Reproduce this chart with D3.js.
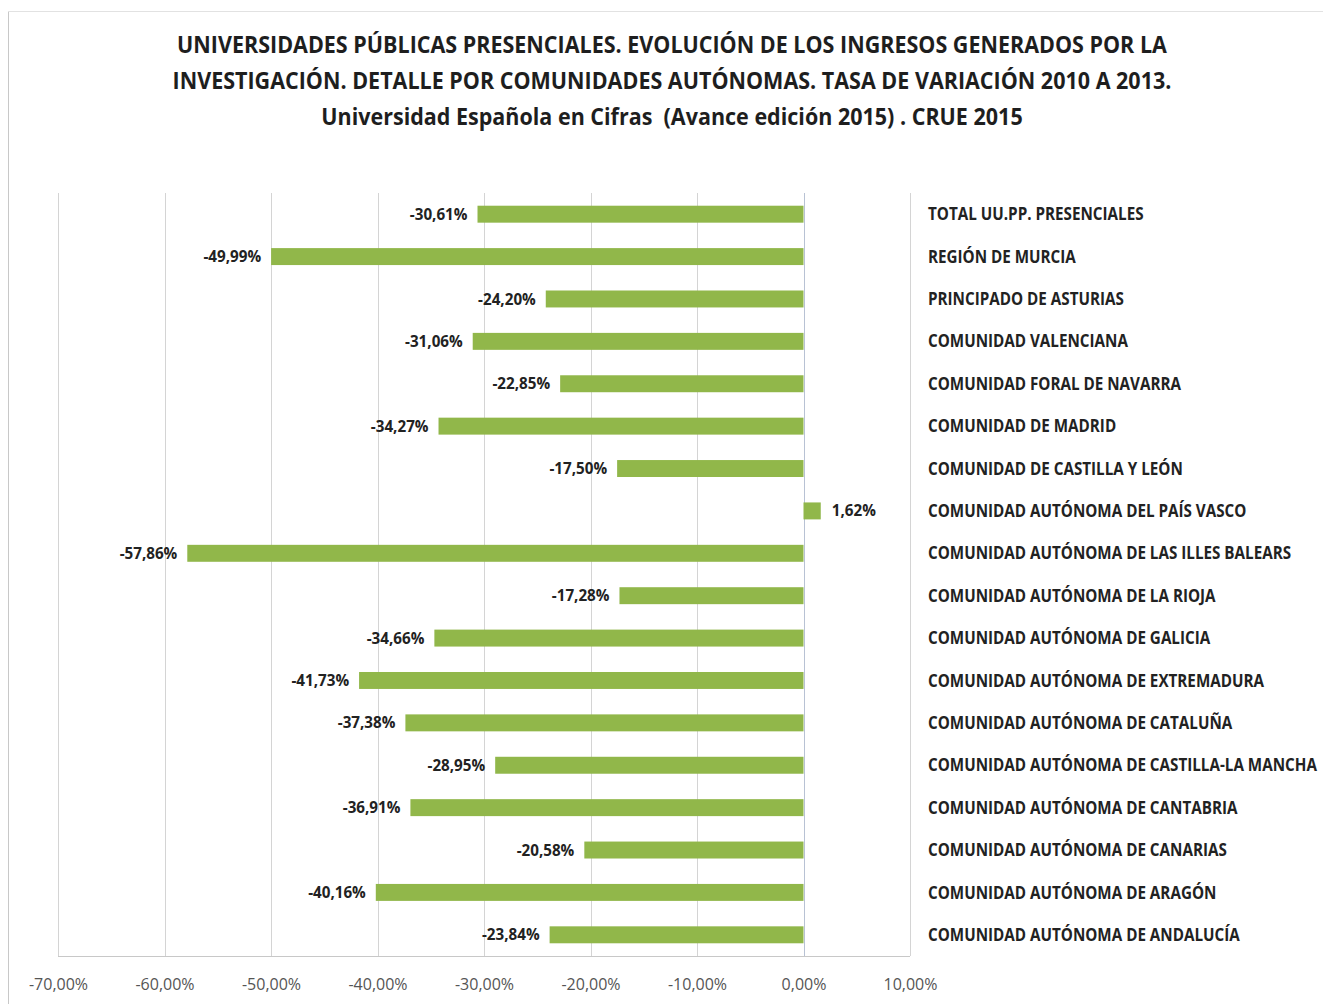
<!DOCTYPE html>
<html><head><meta charset="utf-8">
<script src="https://cdn.jsdelivr.net/npm/d3@7"></script>
<style>body{margin:0;background:#fff;} svg{display:block;}</style>
</head><body>
<svg id="c" width="1323" height="1004"></svg>
<script>
const titleLines = [
  "UNIVERSIDADES PÚBLICAS PRESENCIALES. EVOLUCIÓN DE LOS INGRESOS GENERADOS POR LA",
  "INVESTIGACIÓN. DETALLE POR COMUNIDADES AUTÓNOMAS. TASA DE VARIACIÓN 2010 A 2013.",
  "Universidad Española en Cifras  (Avance edición 2015) . CRUE 2015"
];
const categories = [
  "TOTAL UU.PP. PRESENCIALES",
  "REGIÓN DE MURCIA",
  "PRINCIPADO DE ASTURIAS",
  "COMUNIDAD VALENCIANA",
  "COMUNIDAD FORAL DE NAVARRA",
  "COMUNIDAD DE MADRID",
  "COMUNIDAD DE CASTILLA Y LEÓN",
  "COMUNIDAD AUTÓNOMA DEL PAÍS VASCO",
  "COMUNIDAD AUTÓNOMA DE LAS ILLES BALEARS",
  "COMUNIDAD AUTÓNOMA DE LA RIOJA",
  "COMUNIDAD AUTÓNOMA DE GALICIA",
  "COMUNIDAD AUTÓNOMA DE EXTREMADURA",
  "COMUNIDAD AUTÓNOMA DE CATALUÑA",
  "COMUNIDAD AUTÓNOMA DE CASTILLA-LA MANCHA",
  "COMUNIDAD AUTÓNOMA DE CANTABRIA",
  "COMUNIDAD AUTÓNOMA DE CANARIAS",
  "COMUNIDAD AUTÓNOMA DE ARAGÓN",
  "COMUNIDAD AUTÓNOMA DE ANDALUCÍA"
];
const values = [-30.61, -49.99, -24.20, -31.06, -22.85, -34.27, -17.50, 1.62, -57.86,
  -17.28, -34.66, -41.73, -37.38, -28.95, -36.91, -20.58, -40.16, -23.84];
const xTicks = [-70, -60, -50, -40, -30, -20, -10, 0, 10];

const svg = d3.select("#c");
const FONT = "'Open Sans', 'Liberation Sans', sans-serif";
function condense(sel, k) {
  sel.each(function() {
    const L = this.getComputedTextLength();
    d3.select(this).attr("textLength", L * k).attr("lengthAdjust", "spacingAndGlyphs");
  });
}
const pct = d => d.toFixed(2).replace(".", ",") + "%";

// frame
svg.append("line").attr("x1", 8.5).attr("x2", 8.5).attr("y1", 11).attr("y2", 1004).attr("stroke", "#c8c8c8");
svg.append("line").attr("x1", 8).attr("x2", 1323).attr("y1", 11.5).attr("y2", 11.5).attr("stroke", "#e2e2e2");

const x = d3.scaleLinear().domain([-70, 10]).range([58, 910]);
const y = d3.scaleBand().domain(categories).range([193, 956]).paddingInner(0.6).paddingOuter(0.3);

// title
const t = svg.append("g").attr("font-family", FONT).attr("font-weight", 700).attr("fill", "#1e1e1e");
t.selectAll("text").data(titleLines).join("text")
  .attr("x", 672).attr("y", (d, i) => [53, 89, 125][i])
  .attr("text-anchor", "middle").attr("font-size", 23)
  .style("white-space", "pre").text(d => d)
  .call(condense, 0.935);

// gridlines
svg.append("g").selectAll("line").data(xTicks).join("line")
  .attr("x1", d => Math.round(x(d)) + 0.5).attr("x2", d => Math.round(x(d)) + 0.5)
  .attr("y1", 193).attr("y2", 956)
  .attr("stroke", d => d === 0 ? "#b8c2d4" : "#d4d4d4");
svg.append("line").attr("x1", 58).attr("x2", 910).attr("y1", 956.5).attr("y2", 956.5).attr("stroke", "#c8c8c8");

// x axis tick labels
const xa = svg.append("g").attr("transform", "translate(0,956)")
  .call(d3.axisBottom(x).tickValues(xTicks).tickSize(0).tickPadding(23).tickFormat(pct));
xa.select(".domain").remove();
xa.selectAll("text").attr("font-family", FONT).attr("font-size", 16).attr("fill", "#555");

// bars
svg.append("g").selectAll("rect").data(values).join("rect")
  .attr("x", d => x(Math.min(0, d)))
  .attr("width", d => Math.abs(x(d) - x(0)))
  .attr("y", (d, i) => y(categories[i]))
  .attr("height", y.bandwidth())
  .attr("fill", "#91b74a");

// value labels
svg.append("g").selectAll("text").data(values).join("text")
  .attr("x", d => d < 0 ? x(d) - 10 : x(d) + 11)
  .attr("y", (d, i) => y(categories[i]) + y.bandwidth() / 2)
  .attr("dy", "0.36em")
  .attr("text-anchor", d => d < 0 ? "end" : "start")
  .attr("font-family", FONT).attr("font-weight", 700).attr("font-size", 15.5).attr("fill", "#222")
  .text(pct)
  .call(condense, 0.98);

// category labels (condensed horizontally via transform)
const ya = svg.append("g").attr("transform", "translate(928,0)")
  .call(d3.axisRight(y).tickSize(0).tickPadding(0));
ya.select(".domain").remove();
ya.selectAll("text").attr("font-family", FONT).attr("font-weight", 700).attr("font-size", 17)
  .attr("fill", "#222").attr("text-anchor", "start").attr("dy", "0.36em")
  .attr("x", 0).attr("transform", "scale(0.895,1)");
</script>
</body></html>
